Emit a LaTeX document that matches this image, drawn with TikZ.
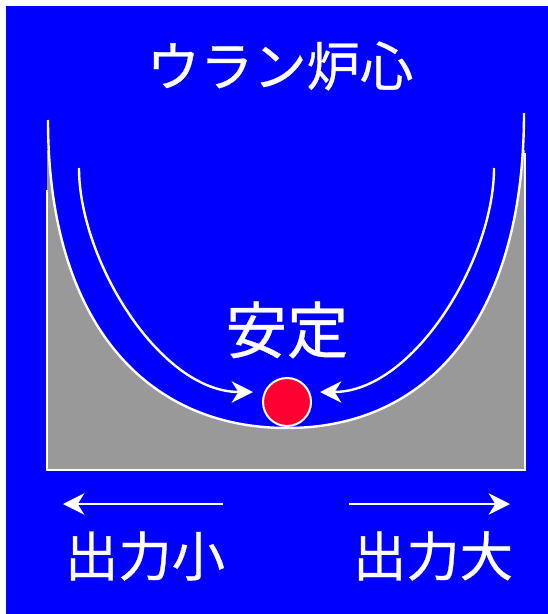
\documentclass[tikz,border=0pt]{standalone}
\usepackage{fontspec}
\newfontfamily\jp[FakeBold=0.6]{Noto Sans CJK JP}
\usetikzlibrary{arrows.meta}
\definecolor{bgblue}{RGB}{0,0,255}
\definecolor{basegray}{RGB}{153,153,153}
\definecolor{ballred}{RGB}{255,0,51}
\begin{document}
\begin{tikzpicture}[x=0.75pt,y=-0.75pt,
  wline/.style={draw=white,line width=1.8pt},
  warrow/.style={draw=white,line width=1.8pt,-{Stealth[length=16pt,width=16pt,inset=5pt]}},
  jptext/.style={text=white,font=\jp\fontsize{40}{40}\selectfont,inner sep=0pt},
  bigtext/.style={text=white,font=\jp\fontsize{46}{46}\selectfont,inner sep=0pt}]
\useasboundingbox (0,0) rectangle (548,614);
\fill[white] (0,0) rectangle (548,614);
\fill[bgblue] (6,6) rectangle (548,614);
% curve points
\coordinate (L) at (48,120);
\coordinate (B) at (287,428);
\coordinate (R) at (524,113);
\coordinate (GL) at (47,190);
\coordinate (GBL) at (47,470);
\coordinate (GBR) at (525,470);
\coordinate (GR) at (525,153);
% gray base
\begin{scope}
\clip (47,150) rectangle (525,470);
\fill[basegray] (L) .. controls (48,320) and (144,428) .. (B)
  .. controls (429,428) and (524,318) .. (R) -- (540,100) -- (540,480) -- (30,480) -- (30,100) -- cycle;
\end{scope}
\draw[wline] (GL) -- (GBL) -- (GBR) -- (GR);
\draw[wline] (L) .. controls (48,320) and (144,428) .. (B)
  .. controls (429,428) and (524,318) .. (R);
% inner arrows
\coordinate (IL) at (79,168);
\coordinate (IR) at (494,168);
\node[circle,fill=ballred,draw=white,line width=1.5pt,minimum size=36pt,inner sep=0pt] (ball) at (287,402) {};
\coordinate (TL) at (253,392);
\coordinate (TR) at (320,392);
\draw[warrow] (IL) .. controls (79,260) and (160,392) .. (TL);
\draw[warrow] (IR) .. controls (494,260) and (413,392) .. (TR);
% texts
\node[jptext] (title) at (280,66) {ウラン炉心};
\node[bigtext] (stable) at (287,330) {安定};
\node[jptext] (low) at (145,556) {出力小};
\node[jptext] (high) at (433,556) {出力大};
% bottom arrows
\coordinate (a1s) at (223,504);
\coordinate (a1e) at (63,504);
\coordinate (a2s) at (349,504);
\coordinate (a2e) at (510,504);
\draw[warrow] (a1s) -- (a1e);
\draw[warrow] (a2s) -- (a2e);
\end{tikzpicture}
\end{document}
